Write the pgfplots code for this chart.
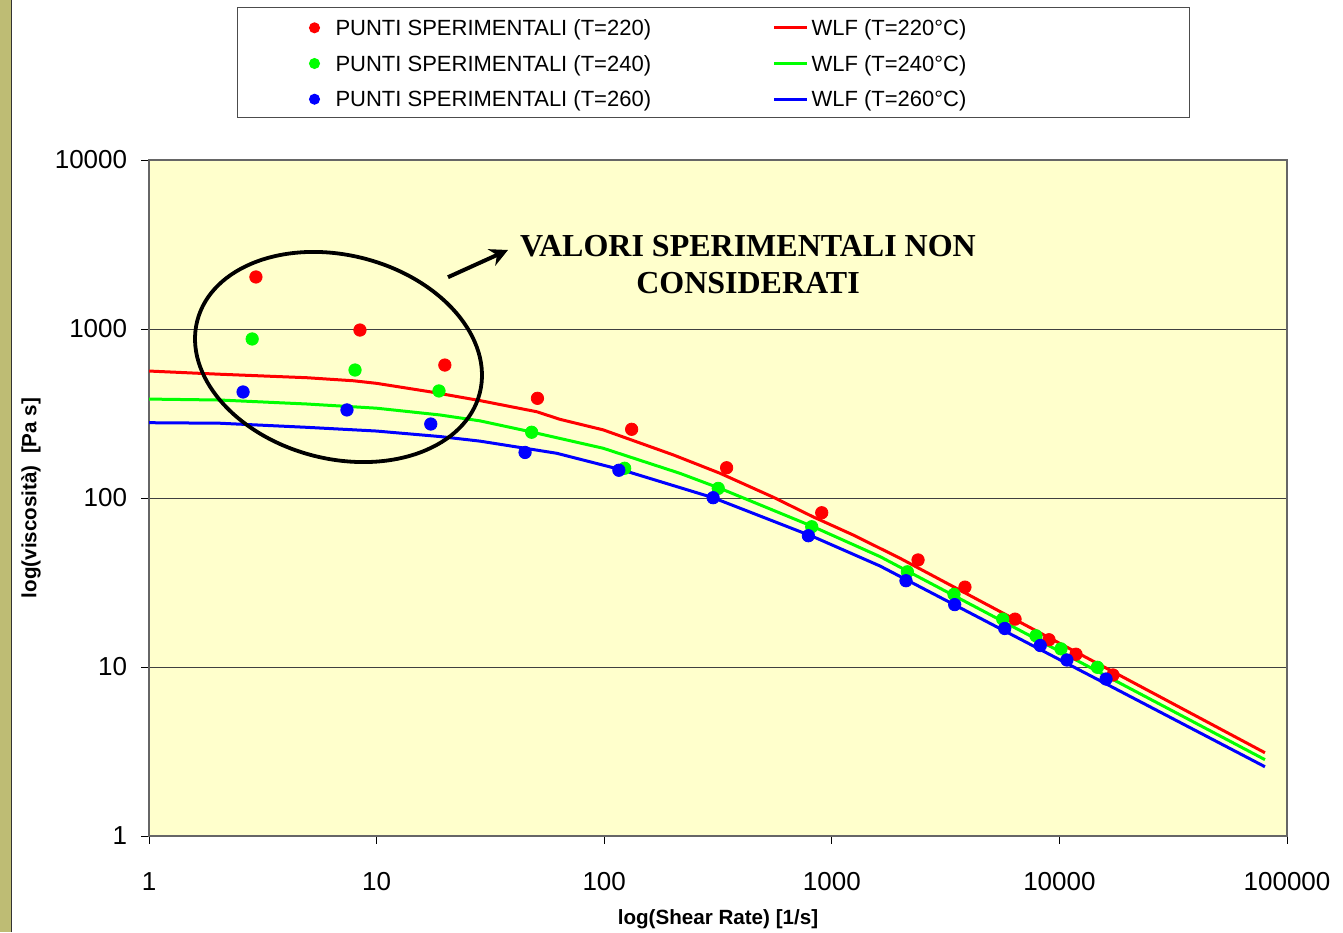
\documentclass[border=0pt]{standalone}
\usepackage{pgfplots}
\pgfplotsset{compat=1.18}
\usepackage{fontspec}
\setmainfont{Liberation Sans}
\newfontfamily\timesb{Liberation Serif}
\usetikzlibrary{arrows.meta}
\definecolor{stripcol}{RGB}{190,188,116}
\definecolor{plotbg}{RGB}{255,255,204}
\definecolor{pred}{RGB}{255,0,0}
\definecolor{pgreen}{RGB}{0,255,0}
\definecolor{pblue}{RGB}{0,0,255}

\pgfplotstableread{
x y
2.95 2032
8.45 986
19.95 612
50.9 389
132 255
345 151
903 81.8
2393 43.0
3846 29.7
6384 19.2
9000 14.5
11830 11.9
17200 8.97
}\ptred
\pgfplotstableread{
x y
2.84 873
8.04 572
18.8 430
48 245
123 150
317 114
816 67.6
2148 36.6
3443 26.9
5636 19.2
7890 15.3
10160 12.8
14690 9.96
}\ptgreen
\pgfplotstableread{
x y
2.59 424
7.41 332
17.3 274
44.9 186
116 146
301 100.4
789 59.8
2118 32.4
3467 23.4
5750 16.9
8240 13.4
10790 11.0
16030 8.49
}\ptblue
\pgfplotstableread{
x y
1 564
2.05 540
4.93 515
7.91 494
10 477
17.2 425
28.5 377
50.5 324
64 292
99 253
130 222
201 180
323 140
554 101
829 77.3
1242 60.4
1995 44
80000 3.11
}\lnred
\pgfplotstableread{
x y
1 385
2.05 380
4.93 360
10 340
19 310
28.5 286
47.2 247
99 197
215 140
323 114
829 67.6
1629 45
80000 2.83
}\lngreen
\pgfplotstableread{
x y
1 279
2.05 277
4.93 262
10 249
19 231
28.5 217
61.8 184
121 146
301 100.4
829 59
1629 39.6
80000 2.57
}\lnblue

\begin{document}
\begin{tikzpicture}
\useasboundingbox (0,0) rectangle (671.5pt,466pt);
\fill[stripcol] (0,0) rectangle (5.5pt,466pt);
\draw[black!80, line width=0.6pt] (5.8pt,0) -- (5.8pt,466pt);
\begin{axis}[
  at={(74.5pt,48pt)}, anchor=south west,
  width=569pt, height=338pt, scale only axis,
  xmode=log, ymode=log,
  xmin=1, xmax=100000, ymin=1, ymax=10000,
  xtick={1,10,100,1000,10000,100000},
  xticklabels={1,10,100,1000,10000,100000},
  ytick={1,10,100,1000,10000},
  yticklabels={1,10,100,1000,10000},
  xminorticks=false, yminorticks=false,
  tick align=outside, tick pos=left,
  major tick length=4pt,
  tick style={black, line width=0.5pt},
  ymajorgrids, grid style={black!75, line width=0.5pt},
  axis background/.style={fill=plotbg},
  axis line style={black!60, line width=0.6pt},
  /pgf/number format/assume math mode=true,
  tick label style={font=\fontsize{13}{15}\selectfont},
  xticklabel style={anchor=north, inner sep=0pt, yshift=-14pt},
  yticklabel style={anchor=east, inner sep=0pt, xshift=-6.75pt},
  xlabel={log(Shear Rate) [1/s]},
  ylabel={log(viscosità)\ \ [Pa s]},
  every axis x label/.style={at={(axis description cs:0.5,-0.1228)}, anchor=center,
     font=\fontsize{10.3}{12}\selectfont\bfseries},
  every axis y label/.style={at={(axis description cs:-0.1037,0.5)}, rotate=90, anchor=center,
     font=\fontsize{10.3}{12}\selectfont\bfseries},
  legend columns=2,
  legend cell align=left,
  legend image code/.code={%
    \path[draw=none,fill=none] (0pt,-2.3pt) rectangle (16.5pt,8pt);
    \draw[mark repeat=2,mark phase=2,#1] plot coordinates {(0pt,0.95pt) (8.25pt,0.95pt) (16.5pt,0.95pt)};},
  legend style={at={(0.07733,1.22633)}, anchor=north west,
    draw=black!70, line width=0.5pt, fill=white,
    inner xsep=30.25pt, inner ysep=3.1pt,
    font=\fontsize{11}{13}\selectfont,
    row sep=4.7pt,
    nodes={inner sep=0pt, text height=8pt, text depth=2.3pt},
    /tikz/column 1/.style={column sep=2.25pt},
    /tikz/column 2/.style={column sep=0pt},
    /tikz/column 3/.style={column sep=1.5pt}},
]
\addplot[pred, line width=1.5pt, forget plot] table[x=x,y=y] {\lnred};
\addplot[pgreen, line width=1.5pt, forget plot] table[x=x,y=y] {\lngreen};
\addplot[pblue, line width=1.5pt, forget plot] table[x=x,y=y] {\lnblue};
\addplot[only marks, mark=*, mark size=3.1pt, pred, forget plot] table[x=x,y=y] {\ptred};
\addplot[only marks, mark=*, mark size=3.1pt, pgreen, forget plot] table[x=x,y=y] {\ptgreen};
\addplot[only marks, mark=*, mark size=3.1pt, pblue, forget plot] table[x=x,y=y] {\ptblue};

\addlegendimage{only marks, mark=*, mark size=2.5pt, pred}
\addlegendentry{\makebox[218.5pt][l]{PUNTI SPERIMENTALI (T=220)}}
\addlegendimage{pred, line width=1.5pt, no markers}
\addlegendentry{\makebox[158.75pt][l]{WLF (T=220°C)}}
\addlegendimage{only marks, mark=*, mark size=2.5pt, pgreen}
\addlegendentry{\makebox[218.5pt][l]{PUNTI SPERIMENTALI (T=240)}}
\addlegendimage{pgreen, line width=1.5pt, no markers}
\addlegendentry{\makebox[158.75pt][l]{WLF (T=240°C)}}
\addlegendimage{only marks, mark=*, mark size=2.5pt, pblue}
\addlegendentry{\makebox[218.5pt][l]{PUNTI SPERIMENTALI (T=260)}}
\addlegendimage{pblue, line width=1.5pt, no markers}
\addlegendentry{\makebox[158.75pt][l]{WLF (T=260°C)}}
\end{axis}
\draw[line width=1.9pt, rotate around={-14.4:(169.25pt,287.5pt)}] (169.25pt,287.5pt) ellipse (72.9pt and 50.9pt);
\draw[line width=2pt, -{Stealth[length=9pt,width=9pt]}] (224pt,327.4pt) -- (254pt,341pt);
\node[font=\timesb\bfseries\fontsize{16}{18.5}\selectfont, align=center, inner sep=0pt] at (374pt,333.75pt) {VALORI SPERIMENTALI NON\\CONSIDERATI};
\end{tikzpicture}
\end{document}
